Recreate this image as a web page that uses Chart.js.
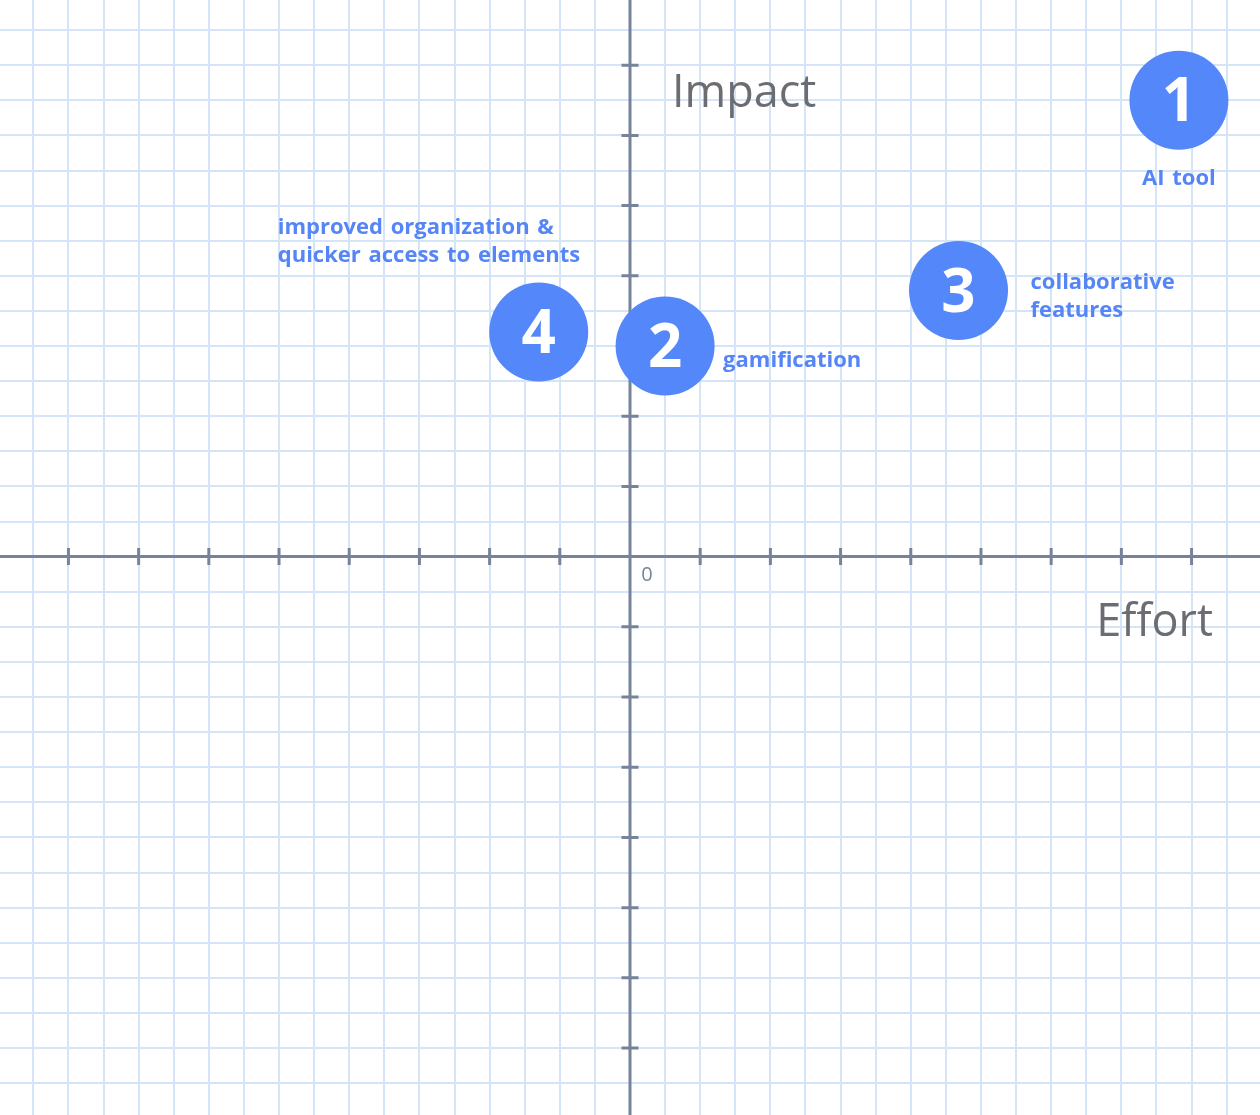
<!DOCTYPE html>
<html><head><meta charset="utf-8">
<script src="https://cdn.jsdelivr.net/npm/chart.js@4"></script>
<style>html,body{margin:0;padding:0;background:#fff;overflow:hidden}#wrap{width:1260px;height:1115px;position:relative}</style>
</head><body><div id="wrap"><canvas id="c"></canvas></div>
<script>
// ---- data ----
const categories = ['AI tool', 'gamification', 'collaborative\nfeatures', 'improved organization &\nquicker access to elements'];
const itemNumbers = ['1', '2', '3', '4'];
const effortValues = [7.82, 0.50, 4.68, -1.30];
const impactValues = [6.50, 3.00, 3.79, 3.20];
const xAxisTitle = 'Effort';
const yAxisTitle = 'Impact';
const originLabel = '0';
const xTickValues = [-8, -7, -6, -5, -4, -3, -2, -1, 1, 2, 3, 4, 5, 6, 7, 8];
const yTickValues = [-7, -6, -5, -4, -3, -2, -1, 1, 2, 3, 4, 5, 6, 7];
const xGridValues = [-8.5,-8,-7.5,-7,-6.5,-6,-5.5,-5,-4.5,-4,-3.5,-3,-2.5,-2,-1.5,-1,-0.5,0,0.5,1,1.5,2,2.5,3,3.5,4,4.5,5,5.5,6,6.5,7,7.5,8,8.5];
const yGridValues = [-7.5,-7,-6.5,-6,-5.5,-5,-4.5,-4,-3.5,-3,-2.5,-2,-1.5,-1,-0.5,0,0.5,1,1.5,2,2.5,3,3.5,4,4.5,5,5.5,6,6.5,7,7.5];

// ---- style ----
const BLUE = '#5487f9';
const LABEL_BLUE = '#5585f6';
const AXIS = '#778399';
const GRID = '#d4e5f8';
const TITLE = '#6b6d72';
// label placement relative to point centre
const labelPlacement = [
  {align: 'center', dx: 0, dy: 78},
  {align: 'left', dx: 58, dy: 15},
  {align: 'left', dx: 72, dy: -8},
  {align: 'left', dx: -261, dy: -104}
];

const axesPlugin = {
  id: 'axesPlugin',
  beforeDatasetsDraw(chart) {
    const {ctx, chartArea: a, scales: {x, y}} = chart;
    const x0 = x.getPixelForValue(0), y0 = y.getPixelForValue(0);
    ctx.save();
    ctx.strokeStyle = AXIS;
    ctx.lineWidth = 3;
    ctx.beginPath();
    ctx.moveTo(a.left, y0); ctx.lineTo(a.right, y0);
    ctx.moveTo(x0, a.top); ctx.lineTo(x0, a.bottom);
    xTickValues.forEach(v => { const p = x.getPixelForValue(v); ctx.moveTo(p, y0 - 8.5); ctx.lineTo(p, y0 + 8.5); });
    yTickValues.forEach(v => { const p = y.getPixelForValue(v); ctx.moveTo(x0 - 8.5, p); ctx.lineTo(x0 + 8.5, p); });
    ctx.stroke();
    ctx.fillStyle = AXIS;
    ctx.font = '20px "Open Sans"';
    ctx.textAlign = 'center';
    ctx.textBaseline = 'middle';
    ctx.fillText(originLabel, x0 + 17, y0 + 19);
    ctx.fillStyle = TITLE;
    ctx.font = '45px "Open Sans"';
    ctx.textBaseline = 'alphabetic';
    ctx.textAlign = 'left';
    ctx.fillText(yAxisTitle, x0 + 42, a.top + 107);
    ctx.textAlign = 'right';
    ctx.fillText(xAxisTitle, a.right - 47, y0 + 79);
    ctx.restore();
  },
  afterDatasetsDraw(chart) {
    const {ctx} = chart;
    const meta = chart.getDatasetMeta(0);
    ctx.save();
    meta.data.forEach((pt, i) => {
      ctx.fillStyle = '#ffffff';
      ctx.font = 'bold 60px "Open Sans"';
      ctx.textAlign = 'center';
      ctx.textBaseline = 'alphabetic';
      ctx.fillText(itemNumbers[i], pt.x, pt.y + 21);
      const pl = labelPlacement[i];
      ctx.fillStyle = LABEL_BLUE;
      ctx.font = 'bold 22px "Open Sans"';
      if ('wordSpacing' in ctx) ctx.wordSpacing = '2px';
      ctx.textAlign = pl.align;
      ctx.textBaseline = 'middle';
      categories[i].split('\n').forEach((line, k) => {
        ctx.fillText(line, pt.x + pl.dx, pt.y + pl.dy + k * 28);
      });
      if ('wordSpacing' in ctx) ctx.wordSpacing = '0px';
    });
    ctx.restore();
  }
};

new Chart(document.getElementById('c'), {
  type: 'scatter',
  data: {
    datasets: [{
      data: effortValues.map((v, i) => ({x: v, y: impactValues[i]})),
      backgroundColor: BLUE,
      borderWidth: 0,
      pointRadius: 49.5,
      pointHoverRadius: 49.5,
      clip: false
    }]
  },
  options: {
    responsive: true,
    maintainAspectRatio: false,
    animation: false,
    events: [],
    layout: {padding: 0, autoPadding: false},
    plugins: {legend: {display: false}, tooltip: {enabled: false}},
    scales: {
      x: {
        type: 'linear', min: -8.975, max: 8.975,
        afterBuildTicks: s => { s.ticks = xGridValues.map(v => ({value: v})); },
        ticks: {display: false},
        border: {display: false},
        grid: {color: GRID, lineWidth: 2, drawTicks: false}
      },
      y: {
        type: 'linear', min: -7.954, max: 7.929,
        afterBuildTicks: s => { s.ticks = yGridValues.map(v => ({value: v})); },
        ticks: {display: false},
        border: {display: false},
        grid: {color: GRID, lineWidth: 2, drawTicks: false}
      }
    }
  },
  plugins: [axesPlugin]
});
</script></body></html>
